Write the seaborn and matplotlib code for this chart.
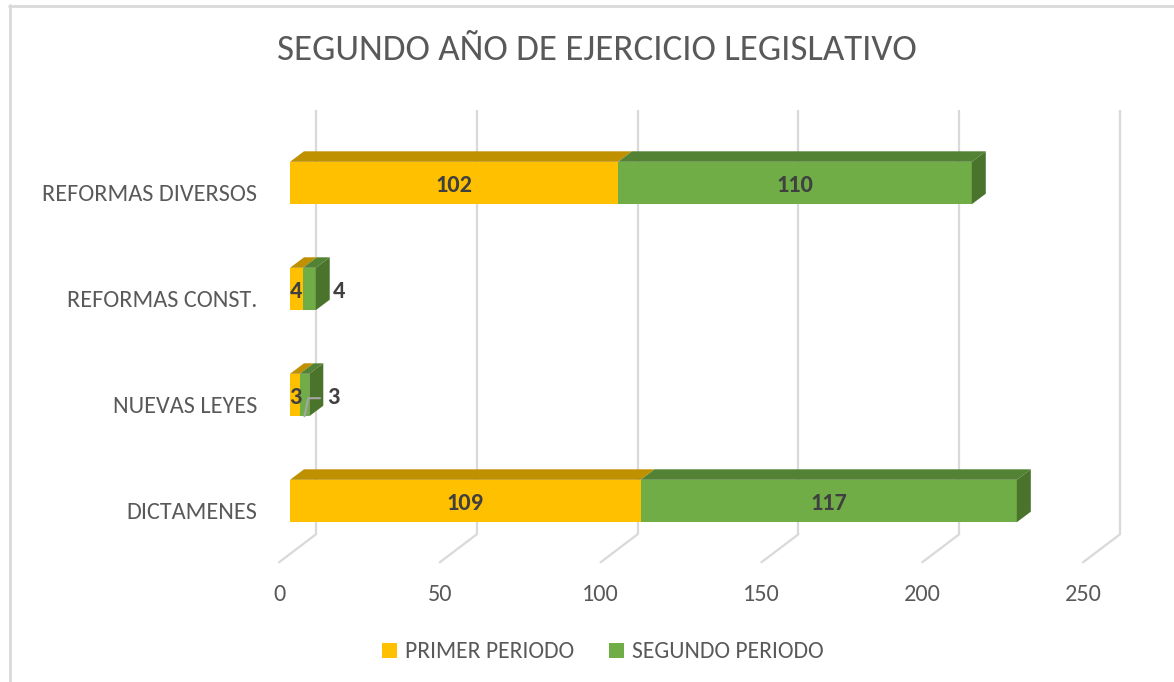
import matplotlib
matplotlib.use("Agg")
import matplotlib.pyplot as plt
from matplotlib.patches import Polygon, Patch
from matplotlib.lines import Line2D
from matplotlib import font_manager as fm
import seaborn as sns
import pandas as pd

# ---------------- data ----------------
categories = ["REFORMAS DIVERSOS", "REFORMAS CONST.", "NUEVAS LEYES", "DICTAMENES"]
primer = [102, 4, 3, 109]
segundo = [110, 4, 3, 117]
series_names = ["PRIMER PERIODO", "SEGUNDO PERIODO"]
xticks = [0, 50, 100, 150, 200, 250]
title = "SEGUNDO AÑO DE EJERCICIO LEGISLATIVO"

# ---------------- style ----------------
def has_font(name):
    try:
        fm.findfont(fm.FontProperties(family=name), fallback_to_default=False)
        return True
    except Exception:
        return False

CARLITO = has_font("Carlito")
FONT = "Carlito" if CARLITO else "Lato"
sns.set_theme(style="white")
plt.rcParams["font.family"] = [FONT, "DejaVu Sans"]

K = 1.18 if CARLITO else 1.0
FS_TITLE = 22.6 * K
FS = 14.8 * K
FS_LEG = 14.4 * K

YELLOW, YELLOW_TOP = "#FFC000", "#BF9000"
GREEN, GREEN_TOP, GREEN_SIDE = "#70AD47", "#548235", "#4A742C"
GRID = "#D9D9D9"
TXT = "#595959"
LBL = "#404040"

W, H = 1174, 682
fig = plt.figure(figsize=(W / 100, H / 100), dpi=100)
fig.patch.set_facecolor("white")

ax_l, ax_r, ax_t, ax_b = 250, 1160, 100, 580
ax = fig.add_axes([ax_l / W, 1 - ax_b / H, (ax_r - ax_l) / W, (ax_b - ax_t) / H])

PX_PER_UNIT = 3.216
PX_PER_CAT = 106.0
X0_PX = 290.0
C0_PX = 183.0

df = pd.DataFrame({"cat": categories, "primer": primer, "segundo": segundo})
df["total"] = df["primer"] + df["segundo"]

BAR_W = 0.4
sns.barplot(data=df, x="total", y="cat", color=GREEN, saturation=1, width=BAR_W,
            orient="h", errorbar=None, linewidth=0, ax=ax, zorder=3)
sns.barplot(data=df, x="primer", y="cat", color=YELLOW, saturation=1, width=BAR_W,
            orient="h", errorbar=None, linewidth=0, ax=ax, zorder=3)

ax.set_xlim((ax_l - X0_PX) / PX_PER_UNIT, (ax_r - X0_PX) / PX_PER_UNIT)
ax.set_ylim((ax_b - C0_PX) / PX_PER_CAT, (ax_t - C0_PX) / PX_PER_CAT)
ax.axis("off")

DX = 14.0 / PX_PER_UNIT
DY = -10.5 / PX_PER_CAT
BACK_DX = 26.0 / PX_PER_UNIT
BACK_DY = -19.7 / PX_PER_CAT
FRONT_DX = -11.0 / PX_PER_UNIT
FRONT_DY = 8.3 / PX_PER_CAT
n = len(categories)
floor_c = n - 0.5
top_c = -0.5

for v in xticks:
    ax.plot([v + BACK_DX, v + BACK_DX], [floor_c + BACK_DY, top_c + BACK_DY],
            color=GRID, lw=1.6, zorder=1, solid_capstyle="butt")
    ax.plot([v + FRONT_DX, v + BACK_DX], [floor_c + FRONT_DY, floor_c + BACK_DY],
            color=GRID, lw=1.6, zorder=1)
    ax.text(v + FRONT_DX, floor_c + 0.385, str(v), ha="center", va="center",
            fontsize=FS, color=TXT)

h = BAR_W / 2
for i, (p, s) in enumerate(zip(primer, segundo)):
    ytop = i - h
    segs = [(0, p, YELLOW_TOP), (p, p + s, GREEN_TOP)]
    for x0, x1, col in segs:
        ax.add_patch(Polygon([(x0, ytop), (x1, ytop), (x1 + DX, ytop + DY), (x0 + DX, ytop + DY)],
                             closed=True, facecolor=col, edgecolor="none", zorder=4))
    x1 = p + s
    ax.add_patch(Polygon([(x1, ytop), (x1 + DX, ytop + DY), (x1 + DX, i + h + DY), (x1, i + h)],
                         closed=True, facecolor=GREEN_SIDE, edgecolor="none", zorder=4))

for i, c in enumerate(categories):
    ax.text((257 - X0_PX) / PX_PER_UNIT, i + 0.11, c, ha="right", va="center",
            fontsize=FS, color=TXT)

for i, (p, s) in enumerate(zip(primer, segundo)):
    ax.text(p / 2, i + 0.02, str(p), ha="center", va="center", fontsize=FS,
            fontweight="bold", color=LBL, zorder=6)
    if s > 20:
        ax.text(p + s / 2, i + 0.02, str(s), ha="center", va="center", fontsize=FS,
                fontweight="bold", color=LBL, zorder=6)
    else:
        lx = p + s + DX + 3.0
        ax.text(lx, i + 0.02, str(s), ha="center", va="center", fontsize=FS,
                fontweight="bold", color=LBL, zorder=6)
        if s < 4:
            ax.plot([p + s / 2, p + s / 2 + 1.2, lx - 4.0], [i + h, i + 0.03, i + 0.03],
                    color="#A6A6A6", lw=1.5, zorder=5)

fig.text(597 / W, 1 - 50 / H, title, ha="center", va="center", fontsize=FS_TITLE,
         color=TXT, fontweight="light")

handles = [Patch(facecolor=YELLOW, edgecolor="none"), Patch(facecolor=GREEN, edgecolor="none")]
fig.legend(handles, series_names, loc="center", bbox_to_anchor=(603 / W, 1 - 652 / H),
           ncol=2, frameon=False, fontsize=FS_LEG, handlelength=0.62, handleheight=0.62,
           handletextpad=0.34, columnspacing=1.5, labelcolor=TXT)

fig.add_artist(Line2D([9.5 / W, 9.5 / W], [0, 1 - 5 / H], transform=fig.transFigure,
                      color=GRID, lw=2))
fig.add_artist(Line2D([9 / W, 1], [1 - 5.5 / H, 1 - 5.5 / H], transform=fig.transFigure,
                      color=GRID, lw=2))

fig.savefig("out.png", dpi=100, facecolor="white")
